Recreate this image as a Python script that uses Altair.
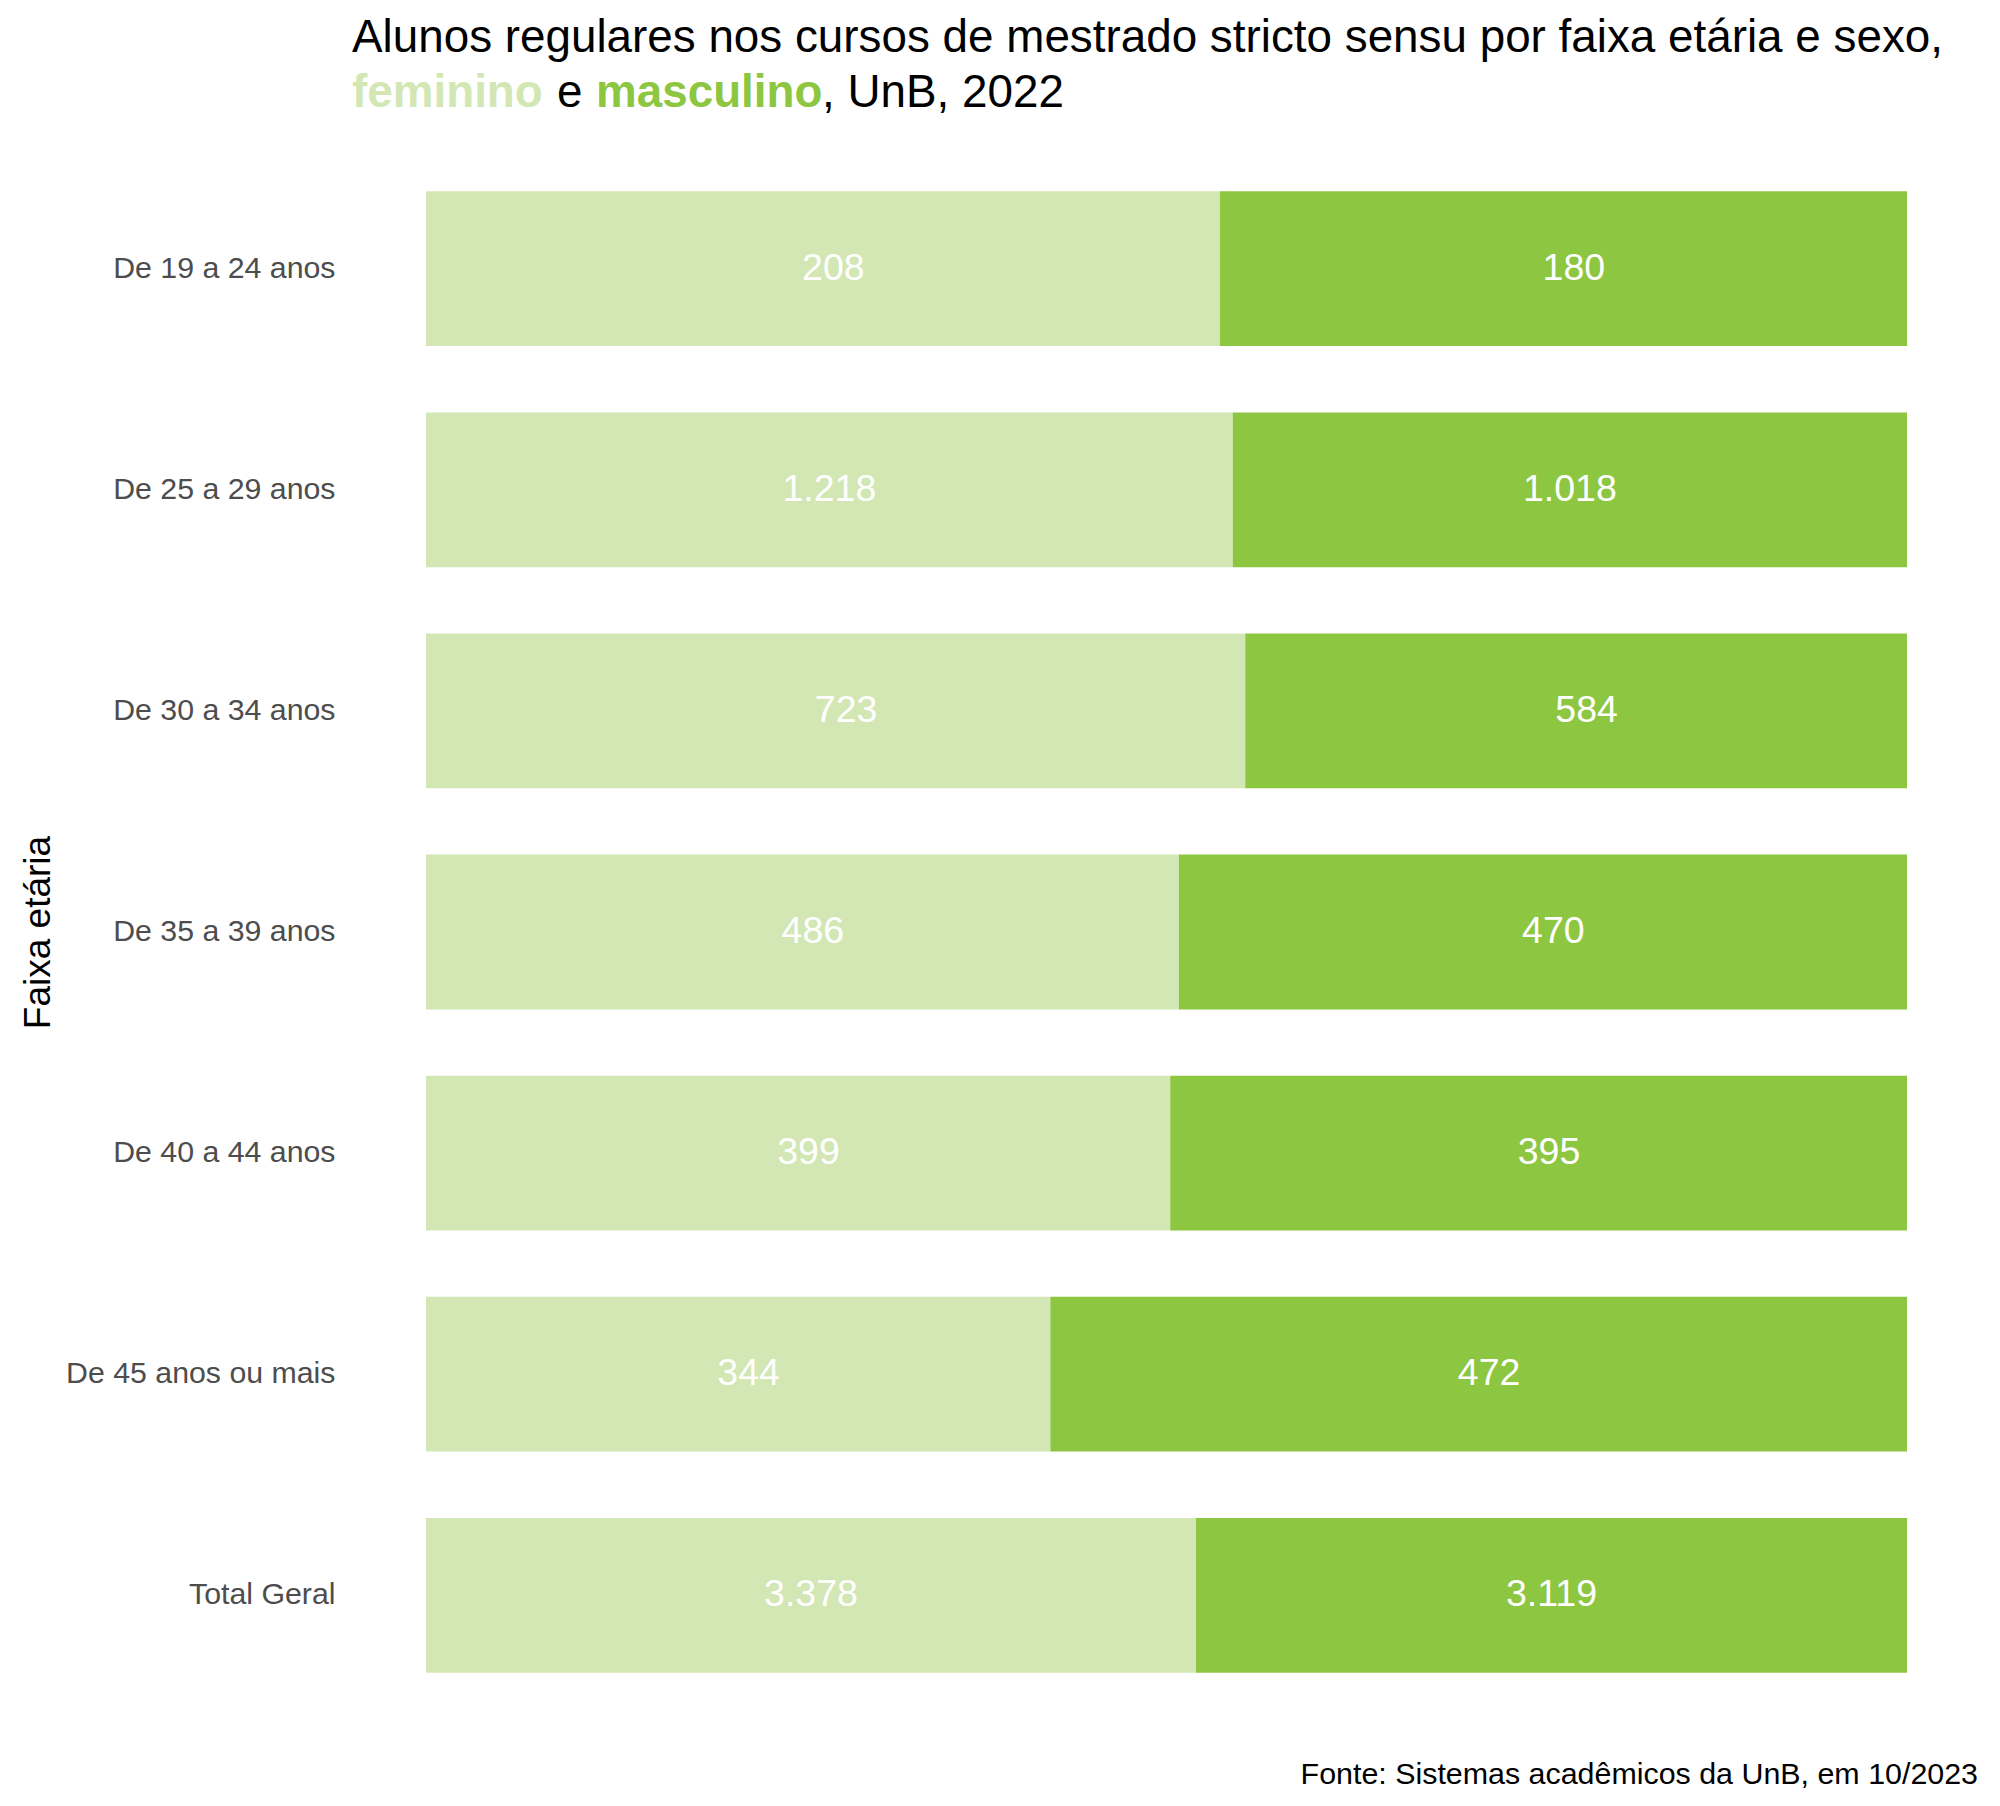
import altair as alt
import pandas as pd

# ---- data ----
faixas = ["De 19 a 24 anos", "De 25 a 29 anos", "De 30 a 34 anos", "De 35 a 39 anos",
          "De 40 a 44 anos", "De 45 anos ou mais", "Total Geral"]
feminino = [208, 1218, 723, 486, 399, 344, 3378]
masculino = [180, 1018, 584, 470, 395, 472, 3119]
sexos = ["feminino", "masculino"]
cores = ["#D2E7B4", "#8DC640"]

title_line1 = "Alunos regulares nos cursos de mestrado stricto sensu por faixa etária e sexo,"
title_parts = ["feminino", "e", "masculino", ", UnB, 2022"]
caption = "Fonte: Sistemas acadêmicos da UnB, em 10/2023"
y_title = "Faixa etária"


def fmt(v):
    # thousands separator "."
    return f"{v:,}".replace(",", ".")


rows = []
for i, f in enumerate(faixas):
    rows.append({"faixa": f, "sexo": sexos[0], "ordem": 0, "valor": feminino[i], "rotulo": fmt(feminino[i])})
    rows.append({"faixa": f, "sexo": sexos[1], "ordem": 1, "valor": masculino[i], "rotulo": fmt(masculino[i])})
df = pd.DataFrame(rows)

FONT = "Liberation Sans"
W, H = 1481, 1592
LABEL_SIZE = 37.5

base = alt.Chart(df).transform_stack(
    stack="valor", groupby=["faixa"], as_=["x0", "x1"], offset="normalize",
    sort=[alt.SortField("ordem", order="ascending")]
).transform_calculate(mid="(datum.x0 + datum.x1) / 2")

yenc = alt.Y("faixa:N", sort=faixas,
             scale=alt.Scale(paddingInner=0.3, paddingOuter=0.25),
             axis=alt.Axis(title=y_title, domain=False, ticks=False, grid=False,
                           labelFontSize=30.3, labelColor="#4D4D4D", labelFont=FONT,
                           labelPadding=91, labelLimit=400,
                           titleFont=FONT, titleFontSize=37, titleFontWeight="normal",
                           titleColor="#000000", titleAngle=270, titleX=-388, titleY=H / 2,
                           titleAlign="center", titleBaseline="middle"))

xscale = alt.Scale(domain=[0, 1], nice=False, zero=True)

bars = base.mark_bar().encode(
    y=yenc,
    x=alt.X("x0:Q", scale=xscale, axis=None),
    x2="x1:Q",
    color=alt.Color("sexo:N", scale=alt.Scale(domain=sexos, range=cores), legend=None),
)

# labels in the original are padded to a common width (two leading spaces for 3-digit values)
pad_shift = 2 * 0.278 * LABEL_SIZE / 2

labels_long = base.transform_filter("length(datum.rotulo) >= 5").mark_text(
    color="white", fontSize=LABEL_SIZE, font=FONT, baseline="middle", align="center").encode(
    y=alt.Y("faixa:N", sort=faixas),
    x=alt.X("mid:Q", scale=xscale),
    text="rotulo:N",
)
labels_short = base.transform_filter("length(datum.rotulo) < 5").mark_text(
    color="white", fontSize=LABEL_SIZE, font=FONT, baseline="middle", align="center", dx=pad_shift).encode(
    y=alt.Y("faixa:N", sort=faixas),
    x=alt.X("mid:Q", scale=xscale),
    text="rotulo:N",
)


def text_layer(txt, x, y, size, color, weight="normal", align="left", baseline="alphabetic"):
    return alt.Chart(pd.DataFrame({"t": [txt]})).mark_text(
        font=FONT, fontSize=size, color=color, fontWeight=weight, align=align, baseline=baseline
    ).encode(x=alt.value(x), y=alt.value(y), text="t:N")


t1 = text_layer(title_line1, -74, -84, 45.8, "#000000")
t2a = text_layer(title_parts[0], -74, -29, 45.8, cores[0], "bold")
t2b = text_layer(title_parts[1], 131, -29, 45.8, "#000000")
t2c = text_layer(title_parts[2], 170, -29, 45.8, cores[1], "bold")
t2d = text_layer(title_parts[3], 396, -29, 45.8, "#000000")
cap = text_layer(caption, 1552, 1648, 30.4, "#000000", align="right")

chart = alt.layer(bars, labels_long, labels_short, t1, t2a, t2b, t2c, t2d, cap).properties(
    width=W, height=H,
    autosize=alt.AutoSizeParams(type="none"),
    padding={"left": 418, "top": 128, "right": 80, "bottom": 70},
).configure(font=FONT).configure_view(stroke=None, strokeWidth=0)

chart.save("out.html", embed_options={"renderer": "svg", "actions": False})
